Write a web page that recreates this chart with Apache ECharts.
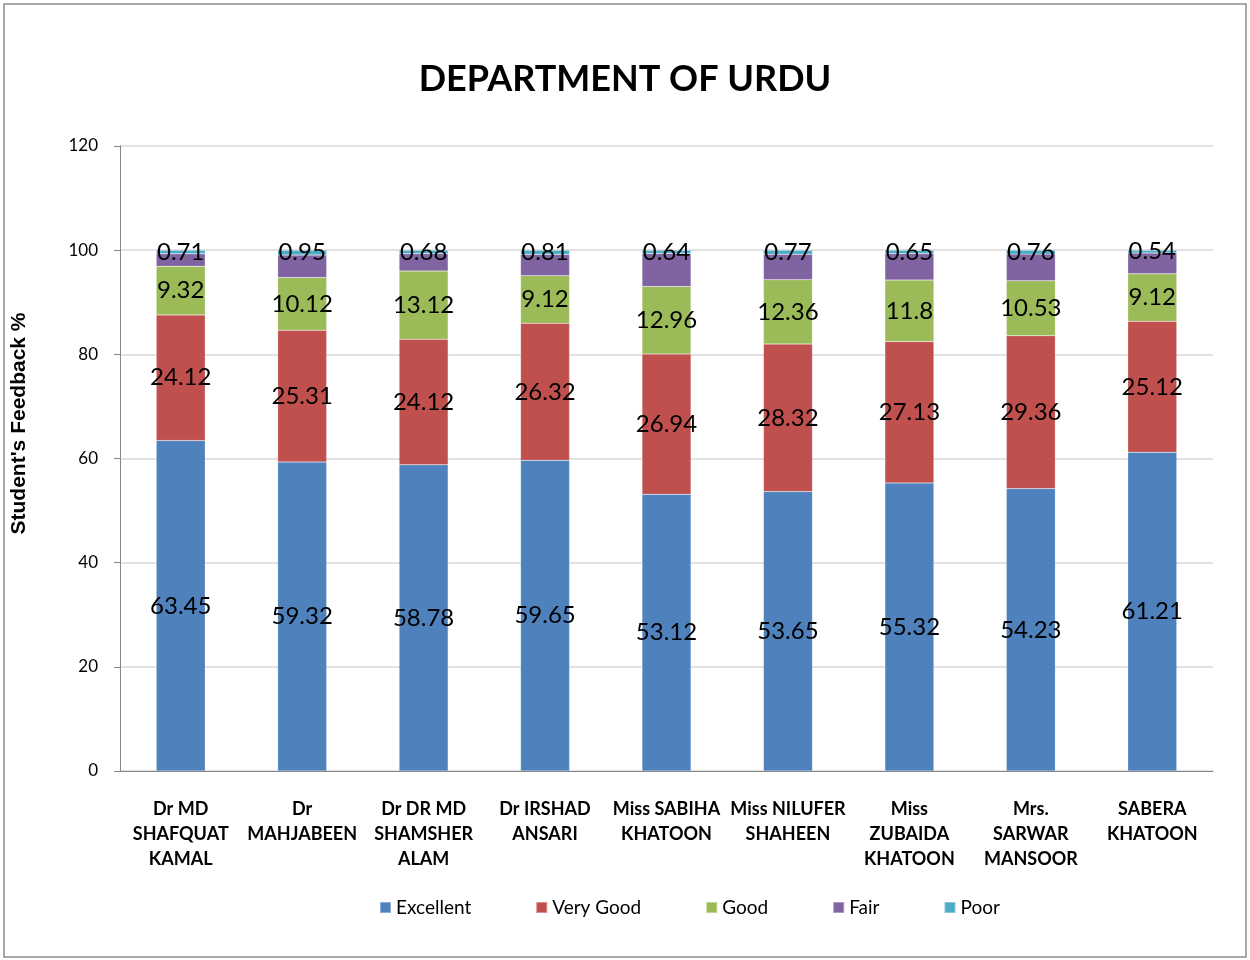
<!DOCTYPE html>
<html>
<head>
<meta charset="utf-8">
<title>Department of Urdu</title>
<script src="https://cdn.jsdelivr.net/npm/echarts@6/dist/echarts.min.js"></script>
<style>
  html, body { margin: 0; padding: 0; background: #fff; }
  #chart { width: 1250px; height: 960px; }
</style>
</head>
<body>
<div id="chart"></div>
<script>
// teachers (category axis)
const teachers = [
  'Dr MD\nSHAFQUAT\nKAMAL',
  'Dr\nMAHJABEEN',
  'Dr DR MD\nSHAMSHER\nALAM',
  'Dr IRSHAD\nANSARI',
  'Miss SABIHA\nKHATOON',
  'Miss NILUFER\nSHAHEEN',
  'Miss\nZUBAIDA\nKHATOON',
  'Mrs.\nSARWAR\nMANSOOR',
  'SABERA\nKHATOON'
]

// feedback % per rating
const excellent = [63.45, 59.32, 58.78, 59.65, 53.12, 53.65, 55.32, 54.23, 61.21]
const veryGood  = [24.12, 25.31, 24.12, 26.32, 26.94, 28.32, 27.13, 29.36, 25.12]
const good      = [9.32, 10.12, 13.12, 9.12, 12.96, 12.36, 11.8, 10.53, 9.12]
const fair      = [2.4, 4.3, 3.3, 4.1, 6.34, 4.9, 5.1, 5.12, 4.0]   // no labels in source
const poor      = [0.71, 0.95, 0.68, 0.81, 0.64, 0.77, 0.65, 0.76, 0.54]

const yTicks = { min: 0, max: 120, interval: 20 }

// excel office palette
const COLORS = ['#4f81bd', '#c0504d', '#9bbb59', '#8064a2', '#4bacc6']

const labelStyle = {
  show: true,
  position: 'inside',
  color: '#000',
  fontFamily: 'Lato, sans-serif',
  fontSize: 24,
}

function bar(name, data, withLabel) {
  return {
    name,
    type: 'bar',
    stack: 'total',
    barWidth: 49,
    data,
    label: withLabel ? labelStyle : { show: false },
    itemStyle: { borderColor: 'rgba(255,255,255,0.35)', borderWidth: 0.5 },
  }
}

const chart = echarts.init(document.getElementById('chart'), null, { renderer: 'canvas' })
chart.setOption({
  backgroundColor: '#fff',
  color: COLORS,
  animation: false,
  title: {
    text: 'DEPARTMENT OF URDU',
    left: 'center',
    top: 56,
    textStyle: { fontFamily: 'Lato, sans-serif', fontWeight: 'bold', fontSize: 36, color: '#000' },
  },
  graphic: [{
    type: 'rect',
    shape: { x: 4, y: 4, width: 1242, height: 953 },
    style: { fill: 'none', stroke: '#8c8c8c', lineWidth: 1.5 },
    z: -1,
  }],
  grid: { left: 120, right: 37, top: 146, bottom: 189 },
  legend: {
    bottom: 38,
    left: 374,
    itemWidth: 11,
    itemHeight: 11,
    itemGap: 64,
    icon: 'rect',
    textStyle: { fontFamily: 'Lato, sans-serif', fontSize: 19, color: '#000' },
  },
  xAxis: {
    type: 'category',
    data: teachers,
    axisLine: { lineStyle: { color: '#868686' } },
    axisTick: { length: 6, lineStyle: { color: '#868686' } },
    axisLabel: {
      interval: 0,
      margin: 26,
      lineHeight: 25,
      fontFamily: 'Lato, sans-serif',
      fontWeight: 'bold',
      fontSize: 18,
      color: '#000',
    },
  },
  yAxis: {
    type: 'value',
    ...yTicks,
    name: "Student's Feedback %",
    nameLocation: 'middle',
    nameGap: 90,
    nameTextStyle: {
      fontFamily: '"Liberation Sans", Arial, sans-serif',
      fontWeight: 'bold',
      fontSize: 21,
      color: '#000',
      padding: [0, 0, 0, 70],
    },
    axisLine: { show: true, lineStyle: { color: '#868686' } },
    axisTick: { show: true, length: 6, lineStyle: { color: '#868686' } },
    axisLabel: { margin: 22, fontFamily: 'Lato, sans-serif', fontSize: 17, color: '#000' },
    splitLine: { lineStyle: { color: '#d9d9d9', width: 1.5 } },
  },
  series: [
    bar('Excellent', excellent, true),
    bar('Very Good', veryGood, true),
    bar('Good', good, true),
    bar('Fair', fair, false),
    bar('Poor', poor, true),
  ],
})
</script>
</body>
</html>
